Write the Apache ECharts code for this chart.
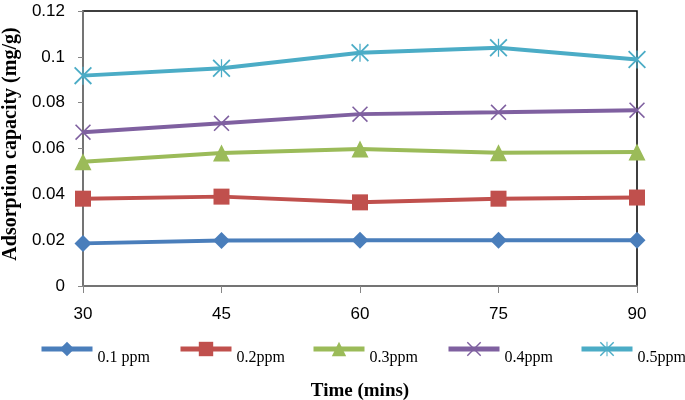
<!DOCTYPE html>
<html><head><meta charset="utf-8">
<script src="https://cdn.jsdelivr.net/npm/echarts@6/dist/echarts.min.js"></script>
<style>html,body{margin:0;padding:0;background:#fff}#c{width:685px;height:400px}</style>
</head><body><div id="c"></div>
<script>
const categories = ['30','45','60','75','90'];
const s01 = [0.0186, 0.0199, 0.0200, 0.0200, 0.0200];
const s02 = [0.0381, 0.0390, 0.0365, 0.0381, 0.0386];
const s03 = [0.0542, 0.0580, 0.0598, 0.0581, 0.0585];
const s04 = [0.0671, 0.0710, 0.0750, 0.0758, 0.0767];
const s05 = [0.0918, 0.0950, 0.1018, 0.1040, 0.0988];
const names = ['0.1 ppm','0.2ppm','0.3ppm','0.4ppm','0.5ppm'];
const yTicks = {min:0, max:0.12, interval:0.02};

const xPath = 'path://M0,1.4L1.4,0L20,18.6L18.6,20ZM18.6,0L20,1.4L1.4,20L0,18.6Z';
const starPath = 'path://M0,1.4L1.4,0L20,18.6L18.6,20ZM18.6,0L20,1.4L1.4,20L0,18.6ZM9.3,0L10.7,0L10.7,20L9.3,20Z';
const colors = ['#4A7EBB','#C0504D','#9BBB59','#7F60A0','#4BACC6'];
const symbols = ['diamond','rect','triangle',xPath,starPath];
const sizes = [17,16,17,16,18];
const data = [s01,s02,s03,s04,s05];
const legendLeft = [39,178,311,446,579];

const chart = echarts.init(document.getElementById('c'));
chart.setOption({
  animation:false,
  grid:{left:83,right:48,top:11,bottom:114,show:true,borderColor:'#000',borderWidth:1.5,
    outerBoundsMode:'none',containLabel:false},
  xAxis:{type:'category',data:categories,boundaryGap:false,
    name:'Time (mins)',nameLocation:'middle',nameGap:96,
    nameTextStyle:{fontFamily:'Liberation Serif',fontWeight:'bold',fontSize:19,color:'#000'},
    axisLine:{lineStyle:{color:'#868686',width:1.5}},
    axisTick:{alignWithLabel:true,length:7,lineStyle:{color:'#868686'}},
    axisLabel:{fontFamily:'Liberation Sans',fontSize:17,color:'#000',margin:20},
    splitLine:{show:false}},
  yAxis:{type:'value',min:yTicks.min,max:yTicks.max,interval:yTicks.interval,
    name:'Adsorption capacity (mg/g)',nameLocation:'middle',nameGap:62,
    nameTextStyle:{fontFamily:'Liberation Serif',fontWeight:'bold',fontSize:20,color:'#000',
      padding:[0,0,0,9]},
    axisLine:{show:true,lineStyle:{color:'#868686',width:1.5}},
    axisTick:{show:true,length:5,lineStyle:{color:'#868686'}},
    axisLabel:{fontFamily:'Liberation Sans',fontSize:17,color:'#000',margin:18,
      formatter:v=>String(+v.toFixed(2))},
    splitLine:{show:false}},
  legend: names.map((n,i)=>({data:[n],left:legendLeft[i],top:331,padding:0,itemWidth:51,itemHeight:18,
    itemGap:0,lineStyle:{width:5},formatter:t=>'\n'+t,
    textStyle:{fontFamily:'Liberation Serif',fontSize:16,lineHeight:18,color:'#000'}})),
  series: names.map((n,i)=>({name:n,type:'line',data:data[i],symbol:symbols[i],symbolSize:sizes[i],
    lineStyle:{color:colors[i],width:4},itemStyle:{color:colors[i]},color:colors[i]}))
});
</script></body></html>
